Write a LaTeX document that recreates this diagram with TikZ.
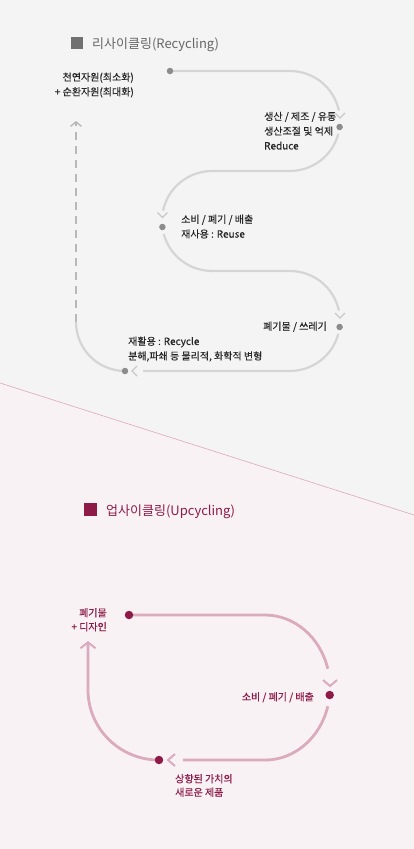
\documentclass[tikz,border=0pt]{standalone}
\usepackage{fontspec}
\setmainfont{Noto Sans CJK KR}
\newfontfamily\lblfont[FakeBold=0.25]{Noto Sans CJK KR}
\newfontfamily\plblfont[FakeBold=0.45]{Noto Sans CJK KR}
\usetikzlibrary{arrows.meta}
\definecolor{bgA}{HTML}{F4F4F4}
\definecolor{bgB}{HTML}{F8F2F5}
\definecolor{divl}{HTML}{DDA9B9}
\definecolor{gline}{HTML}{D5D5D5}
\definecolor{gchevc}{HTML}{C9C9C9}
\definecolor{gdash}{HTML}{B8B8B8}
\definecolor{gdot}{HTML}{8C8C8C}
\definecolor{gtxt}{HTML}{262626}
\definecolor{gtitle}{HTML}{666666}
\definecolor{gsq}{HTML}{707070}
\definecolor{mag}{HTML}{8E1B47}
\definecolor{pline}{HTML}{DBABBD}
\begin{document}
\begin{tikzpicture}[x=1pt,y=1pt,
  gl/.style={draw=gline,line width=2.2pt},
  gchev/.style={draw=gchevc,line width=1.4pt},
  gdotst/.style={circle,fill=gdot,inner sep=0pt,minimum size=6.5pt},
  gtext/.style={text=gtxt,font=\lblfont\fontsize{10}{14.7}\selectfont,inner sep=0pt},
  pl/.style={draw=pline,line width=2.8pt},
  pchev/.style={draw=pline,line width=2pt},
  pdotst/.style={circle,fill=mag,inner sep=0pt,minimum size=8.5pt},
  ptext/.style={text=mag,font=\plblfont\fontsize{10}{14}\selectfont,inner sep=0pt},
  titletext/.style={anchor=base west,inner sep=0pt,font=\fontsize{13}{15}\selectfont}
]
\useasboundingbox (0,0) rectangle (414,-849);
\fill[bgA] (0,0) rectangle (414,-849);
\fill[bgB] (0,-383) -- (414,-515) -- (414,-849) -- (0,-849) -- cycle;
\draw[divl,line width=0.6pt] (0,-383) -- (414,-515);

% ---------- Recycling ----------
\fill[gsq] (71,-37) rectangle (83,-49);
\node[titletext,text=gtitle] (t1) at (92,-48) {리사이클링(Recycling)};

\coordinate (p1) at (170,-71);
\coordinate (p2) at (339.6,-127);
\coordinate (p3) at (162.4,-227);
\coordinate (p4) at (339.6,-327);
\coordinate (p5) at (125,-371);
\coordinate (r6) at (76,-322);
\coordinate (tipR) at (76,-121);

\draw[gl] (p1) -- (290,-71) arc[start angle=90,end angle=12,radius=50];
\draw[gchev] (335,-113) -- (340,-118) -- (345,-113);
\draw[gl] (338.3,-133.9) arc[start angle=-15,end angle=-90,radius=50] -- (212,-171)
  arc[start angle=90,end angle=168,radius=50];
\draw[gchev] (157.5,-212.5) -- (162.5,-217.5) -- (167.5,-212.5);
\draw[gl] (163.7,-233.9) arc[start angle=195,end angle=270,radius=50] -- (290,-271)
  arc[start angle=90,end angle=12,radius=50];
\draw[gchev] (335,-313) -- (340,-318) -- (345,-313);
\draw[gl] (338.3,-333.9) arc[start angle=-15,end angle=-90,radius=50] -- (143,-371);
\draw[gchev] (137,-366) -- (132,-371) -- (137,-376);
\draw[gl] (p5) arc[start angle=270,end angle=180,radius=49] -- (r6);
\draw[draw=gdash,line width=1.6pt,dash pattern=on 8pt off 6pt,
  -{Straight Barb[length=4.5pt,width=11pt,line width=1.4pt]}] (r6) -- (tipR);

\node[gdotst] (d1) at (p1) {};
\node[gdotst] (d2) at (p2) {};
\node[gdotst] (d3) at (p3) {};
\node[gdotst] (d4) at (p4) {};
\node[gdotst] (d5) at (p5) {};

\node[gtext,anchor=base east,align=right] (l0) at (134,-95.5) {천연자원(최소화)\\+ 순환자원(최대화)};
\node[gtext,anchor=base west,align=left] (l1) at (264,-149.5) {생산 / 제조 / 유통\\생산조절 및 억제\\Reduce};
\node[gtext,anchor=base west,align=left] (l2) at (181,-237.7) {소비 / 폐기 / 배출\\재사용 : Reuse};
\node[gtext,anchor=base east] (l3) at (327,-330) {폐기물 / 쓰레기};
\node[gtext,anchor=base west,align=left] (l4) at (128,-359.7) {재활용 : Recycle\\분해,파쇄 등 물리적, 화학적 변형};

% ---------- Upcycling ----------
\fill[mag] (84,-503) rectangle (97,-516);
\node[titletext,text=mag] (t2) at (106,-515) {업사이클링(Upcycling)};

\coordinate (u1) at (129,-615);
\coordinate (u2) at (329.7,-695);
\coordinate (u3) at (159,-760);
\coordinate (tipU) at (88,-641);

\draw[pl] (u1) -- (265,-615) arc[start angle=90,end angle=15,x radius=65,y radius=72.5];
\draw[pchev] (323,-680) -- (330,-686) -- (337,-680);
\draw[pl] (327.8,-706.3) arc[start angle=-15,end angle=-90,x radius=65,y radius=72.5] -- (183,-760);
\draw[pchev] (175,-754) -- (168,-760) -- (175,-766);
\draw[pl,-{Straight Barb[length=6pt,width=15pt,line width=2pt]}] (u3)
  arc[start angle=270,end angle=180,x radius=71,y radius=70] -- (tipU);

\node[pdotst] (e1) at (u1) {};
\node[pdotst] (e2) at (u2) {};
\node[pdotst] (e3) at (u3) {};

\node[ptext,anchor=base east,align=right] (m0) at (107,-630.5) {폐기물\\+ 디자인};
\node[ptext,anchor=base east] (m1) at (314,-700.5) {소비 / 폐기 / 배출};
\node[ptext,anchor=base west,align=left,font=\plblfont\fontsize{10}{13.5}\selectfont] (m2) at (175,-796) {상향된 가치의\\새로운 제품};
\end{tikzpicture}
\end{document}
